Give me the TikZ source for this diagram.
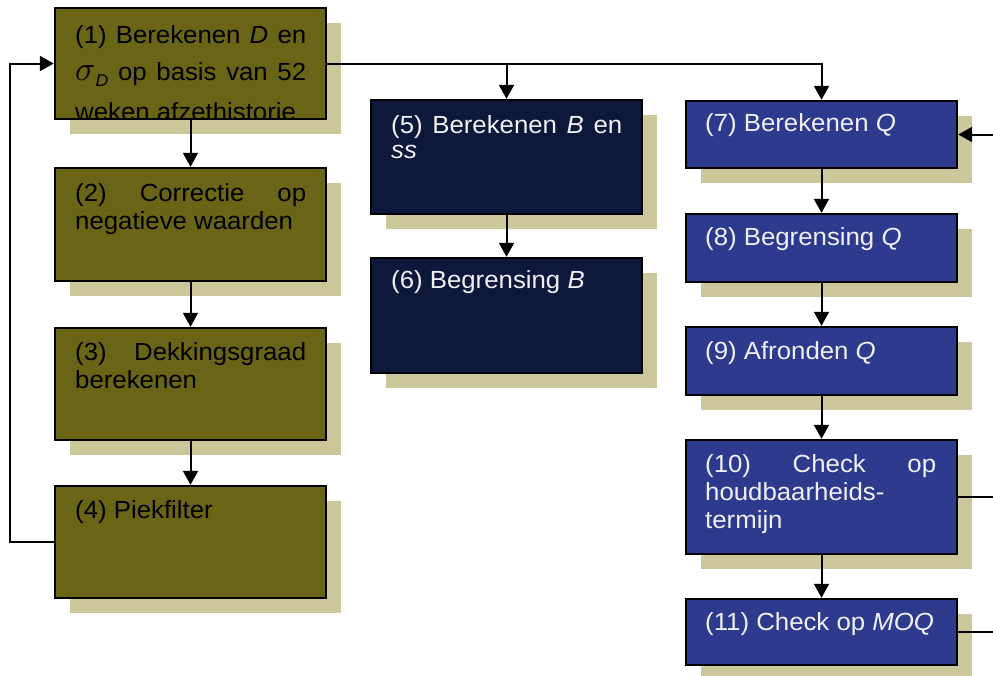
\documentclass[tikz,border=0pt]{standalone}
\usepackage{fontspec}
\setmainfont{Liberation Sans}[FakeStretch=1.04]
\usetikzlibrary{arrows.meta,shadows}

\definecolor{olivebox}{RGB}{106,100,22}
\definecolor{navybox}{RGB}{14,24,58}
\definecolor{bluebox}{RGB}{46,58,142}
\definecolor{shadowkhaki}{RGB}{204,198,155}
\definecolor{paletext}{RGB}{240,240,244}

% one justified line inside a label
\newcommand{\jline}[1]{\makebox[\linewidth][s]{#1}}
% label text block of fixed width, baseline at its first line
\newcommand{\steptext}[1]{\parbox[t]{115.5pt}{\fontsize{12.4}{14}\selectfont #1}}

\begin{document}
\begin{tikzpicture}[x=0.5pt,y=-0.5pt,
  stepbox/.style={draw=black, line width=1.2pt, inner sep=0pt, minimum width=135.5pt,
    drop shadow={shadow xshift=7.5pt, shadow yshift=-7.5pt, fill=shadowkhaki, opacity=1}},
  oliveStep/.style={stepbox, fill=olivebox},
  navyStep/.style={stepbox, fill=navybox},
  blueStep/.style={stepbox, fill=bluebox},
  lbl/.style={inner sep=0pt, anchor=base west, text=black},
  lightlbl/.style={lbl, text=paletext},
  flow/.style={line width=1pt, -{Triangle[length=7pt,width=7.5pt]}},
  link/.style={line width=1pt}]

\useasboundingbox (0,0) rectangle (993,676);

% left column: data preparation
\node[oliveStep, minimum height=55.5pt] (b1) at (190.5,63.5) {};
\node[oliveStep, minimum height=56.5pt] (b2) at (190.5,224.5) {};
\node[oliveStep, minimum height=56pt]   (b3) at (190.5,384) {};
\node[oliveStep, minimum height=56pt]   (b4) at (190.5,542) {};

% middle column: B and safety stock
\node[navyStep, minimum height=57pt]   (b5) at (506.5,157) {};
\node[navyStep, minimum height=57.5pt] (b6) at (506.5,315.5) {};

% right column: order quantity
\node[blueStep, minimum height=33.5pt] (b7)  at (821.5,134.5) {};
\node[blueStep, minimum height=34pt]   (b8)  at (821.5,248) {};
\node[blueStep, minimum height=34pt]   (b9)  at (821.5,361) {};
\node[blueStep, minimum height=57pt]   (b10) at (821.5,497) {};
\node[blueStep, minimum height=33pt]   (b11) at (821.5,632) {};

% labels (the third line of step 1 runs past the box and is cut off)
\begin{scope}
  \clip ([xshift=0.6pt,yshift=1.2pt]b1.south west) rectangle ([xshift=-0.6pt,yshift=-0.6pt]b1.north east);
  \node[lbl] (t1) at ([xshift=10.5pt,yshift=-18.5pt]b1.north west)
    {\steptext{\jline{(1) Berekenen \textit{D} en}\\[4.5pt]
      \jline{{\fontsize{18}{14}\selectfont$\sigma$}\raisebox{-3pt}{\fontsize{8.5}{8}\selectfont\textit{D}} op basis van 52}\\[6pt]
      weken afzethistorie}};
\end{scope}
\node[lbl] (t2) at ([xshift=10.5pt,yshift=-17.5pt]b2.north west)
  {\steptext{\jline{(2) Correctie op}\\negatieve waarden}};
\node[lbl] (t3) at ([xshift=10.5pt,yshift=-17pt]b3.north west)
  {\steptext{\jline{(3) Dekkingsgraad}\\berekenen}};
\node[lbl] (t4) at ([xshift=10.5pt,yshift=-17pt]b4.north west)
  {\steptext{(4) Piekfilter}};

\node[lightlbl] (t5) at ([xshift=10.5pt,yshift=-17.5pt]b5.north west)
  {\steptext{\jline{(5) Berekenen \textit{B} en}\\[-1.5pt]\textit{ss}}};
\node[lightlbl] (t6) at ([xshift=10.5pt,yshift=-16pt]b6.north west)
  {\steptext{(6) Begrensing \textit{B}}};

\node[lightlbl] (t7)  at ([xshift=10pt,yshift=-16pt]b7.north west)
  {\steptext{(7) Berekenen \textit{Q}}};
\node[lightlbl] (t8)  at ([xshift=10pt,yshift=-16.5pt]b8.north west)
  {\steptext{(8) Begrensing \textit{Q}}};
\node[lightlbl] (t9)  at ([xshift=10pt,yshift=-17pt]b9.north west)
  {\steptext{(9) Afronden \textit{Q}}};
\node[lightlbl] (t10) at ([xshift=10pt,yshift=-17pt]b10.north west)
  {\steptext{\jline{(10) Check op}\\houdbaarheids-\\termijn}};
\node[lightlbl] (t11) at ([xshift=10pt,yshift=-16.5pt]b11.north west)
  {\steptext{(11) Check op \textit{MOQ}}};

% connectors
\coordinate (loopL) at (10,542);
\coordinate (inQ)   at (993,134.5);
\coordinate (outHT) at (993,497);
\coordinate (outMOQ) at (993,632);

\draw[flow] (b1.east) -| (b7.north);
\draw[flow] (b1.east -| b5.north) -- (b5.north);
\draw[flow] (b1) -- (b2);
\draw[flow] (b2) -- (b3);
\draw[flow] (b3) -- (b4);
\draw[flow] (b4.west) -- (loopL) |- (b1.west);
\draw[flow] (b5) -- (b6);
\draw[flow] (b7) -- (b8);
\draw[flow] (b8) -- (b9);
\draw[flow] (b9) -- (b10);
\draw[flow] (b10) -- (b11);
\draw[flow] (inQ) -- (b7.east);
\draw[link] (b10.east) -- (outHT);
\draw[link] (b11.east) -- (outMOQ);
\end{tikzpicture}
\end{document}
